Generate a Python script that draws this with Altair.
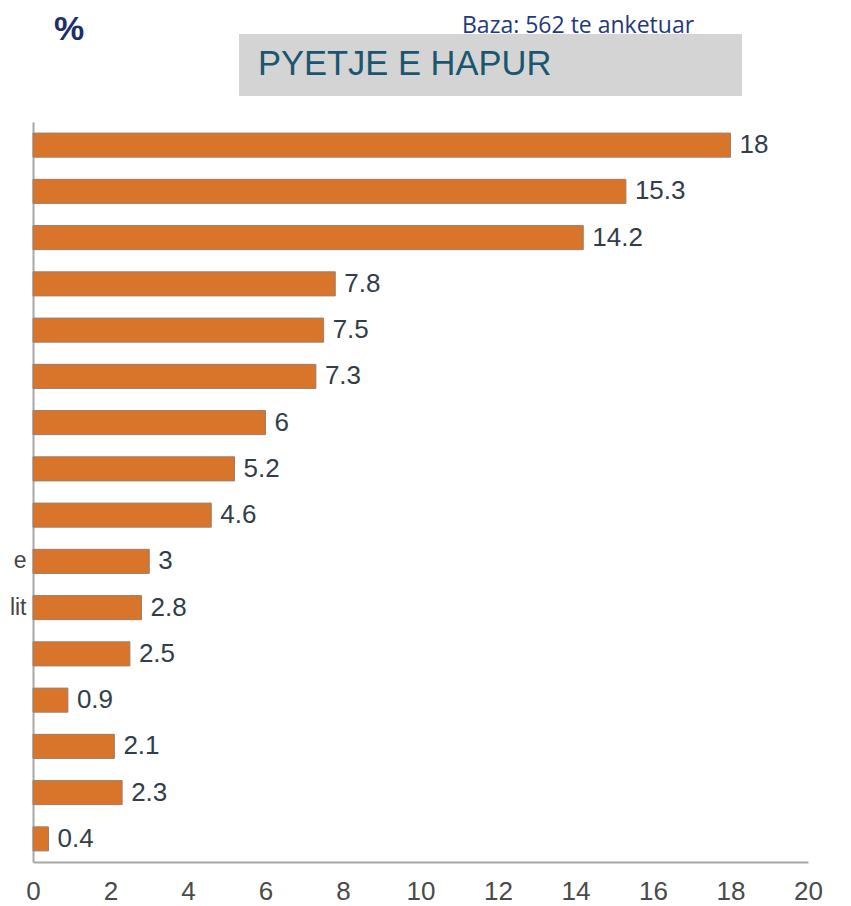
import altair as alt
import pandas as pd

# ---- data ----
values = [18, 15.3, 14.2, 7.8, 7.5, 7.3, 6, 5.2, 4.6, 3, 2.8, 2.5, 0.9, 2.1, 2.3, 0.4]
value_labels = ["18", "15.3", "14.2", "7.8", "7.5", "7.3", "6", "5.2", "4.6",
                "3", "2.8", "2.5", "0.9", "2.1", "2.3", "0.4"]
# only fragments of the category labels are visible in the (cropped) reference
label_fragments = ["", "", "", "", "", "", "", "", "", "e", "lit", "", "", "", "", ""]
x_ticks = [0, 2, 4, 6, 8, 10, 12, 14, 16, 18, 20]
title_text = "PYETJE E HAPUR"
unit_text = "%"
base_text = "Baza: 562 te anketuar"

ids = [f"r{i:02d}" for i in range(len(values))]
df = pd.DataFrame({"id": ids, "value": values, "txt": value_labels})

label_expr = " : ".join(
    [f"datum.value == '{i}' ? '{f}'" for i, f in zip(ids, label_fragments) if f]
) + " : ''"

FONT = "Liberation Sans"

y_enc = alt.Y(
    "id:N",
    sort=ids,
    scale=alt.Scale(paddingInner=0.48, paddingOuter=0.24),
    axis=alt.Axis(
        title=None,
        ticks=False,
        domainColor="#a8a8a8",
        domainWidth=2,
        labelExpr=label_expr,
        labelFont=FONT,
        labelFontSize=23,
        labelColor="#444444",
        labelPadding=7,
    ),
)
x_enc = alt.X(
    "value:Q",
    scale=alt.Scale(domain=[0, 20], nice=False),
    axis=alt.Axis(
        title=None,
        values=x_ticks,
        grid=False,
        ticks=False,
        domainColor="#a8a8a8",
        domainWidth=2,
        labelFont=FONT,
        labelFontSize=26,
        labelColor="#4a4a4a",
        labelPadding=16,
        labelFlush=False,
    ),
)

base = alt.Chart(df)
bars = base.mark_bar(color="#D8752A", stroke="#9c7e6a", strokeWidth=1).encode(
    x=x_enc, y=y_enc
)
texts = base.mark_text(
    align="left", baseline="middle", dx=9, font=FONT, fontSize=26, color="#323d4a"
).encode(x="value:Q", y=alt.Y("id:N", sort=ids), text="txt:N")

hdr = alt.Chart(pd.DataFrame({"t": [title_text]}))
box = hdr.mark_rect(color="#D4D4D4").encode(
    x=alt.value(206), x2=alt.value(709), y=alt.value(-88), y2=alt.value(-26)
)
title = hdr.mark_text(
    align="left", baseline="alphabetic", font=FONT, fontSize=34.5, color="#1B5670"
).encode(x=alt.value(225), y=alt.value(-47), text="t:N")

pct = alt.Chart(pd.DataFrame({"t": [unit_text]})).mark_text(
    align="left", baseline="alphabetic", font=FONT, fontWeight="bold",
    fontSize=34, color="#1C2F6B"
).encode(x=alt.value(21), y=alt.value(-82), text="t:N")

baza = alt.Chart(pd.DataFrame({"t": [base_text]})).mark_text(
    align="left", baseline="alphabetic", font="Open Sans", fontSize=23, color="#1F3A7A"
).encode(x=alt.value(429), y=alt.value(-89), text="t:N")

chart = (
    alt.layer(box, title, pct, baza, bars, texts)
    .properties(
        width=775,
        height=740,
        autosize=alt.AutoSizeParams(type="none"),
        padding={"left": 25, "top": 114, "right": 30, "bottom": 44},
    )
    .configure_view(stroke=None)
)

chart.save("out.html", embed_options={"renderer": "svg", "actions": False})
